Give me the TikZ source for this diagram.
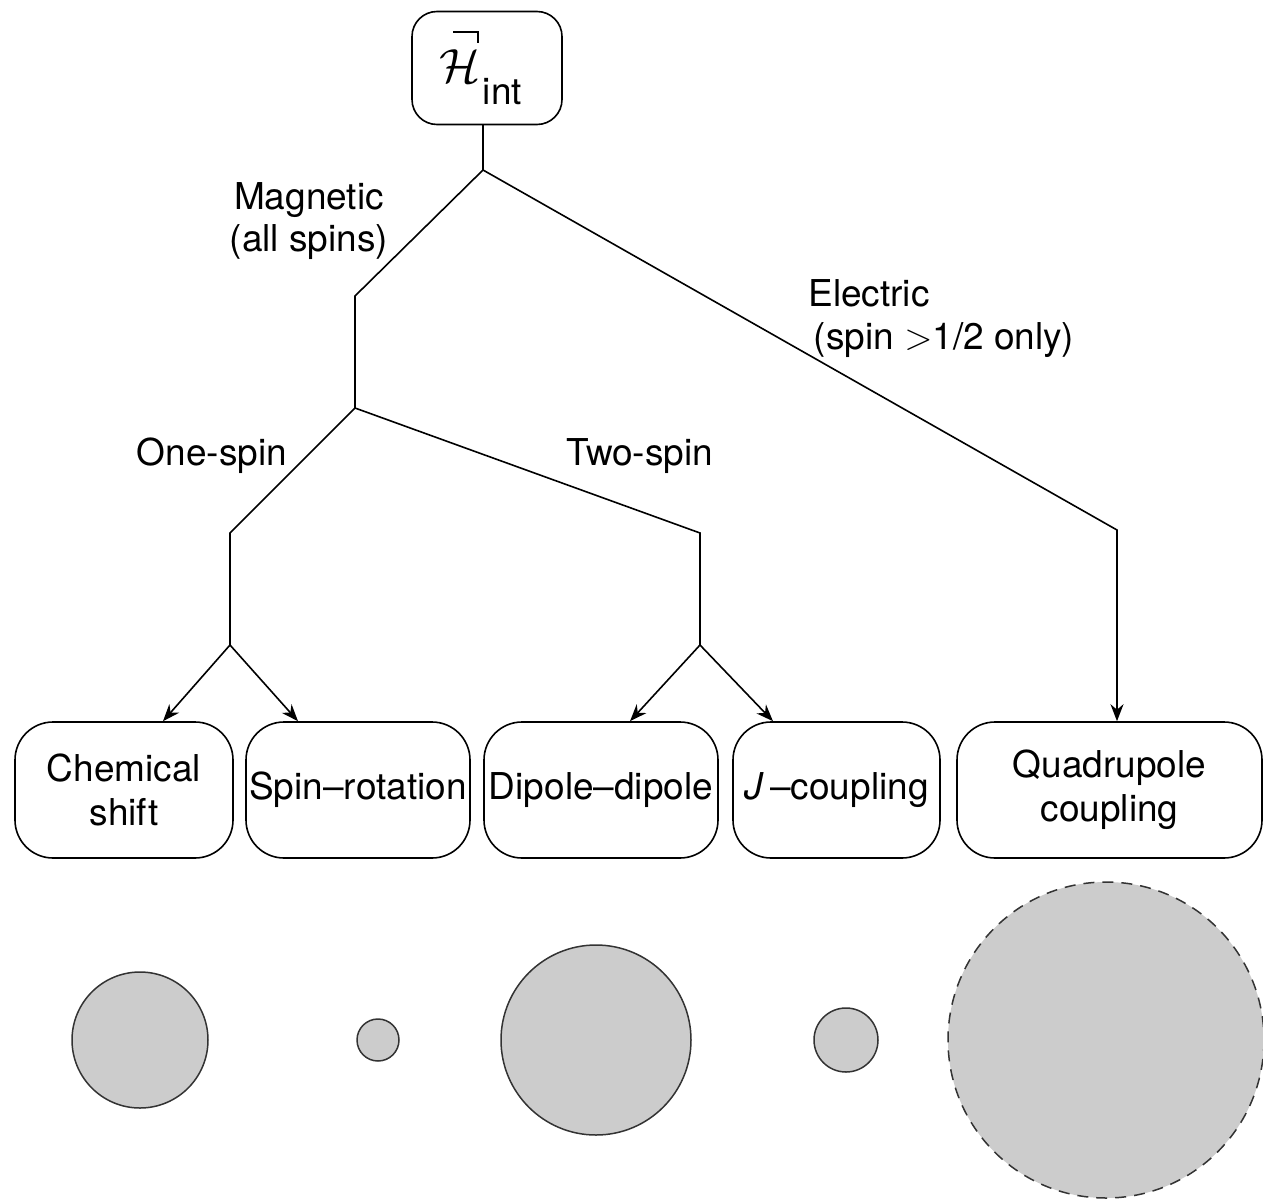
\RequirePackage{fix-cm}
\documentclass[tikz,border=0pt]{standalone}
\usepackage{fontspec}
\setmainfont{TeX Gyre Heros}
\usetikzlibrary{arrows.meta}
\begin{document}
\begin{tikzpicture}[x=1pt,y=-1pt,
  line width=1.6pt,
  every node/.style={font=\fontsize{37}{44}\selectfont},
  box/.style={draw, rounded corners=38pt, minimum height=136pt, inner sep=2pt, align=center},
  topbox/.style={draw, rounded corners=25pt, minimum width=150pt, minimum height=113pt},
  lbl/.style={align=center, inner sep=0pt},
  arr/.style={-{Stealth[length=17pt,width=13pt]}},
  blob/.style={fill=gray!40, draw=black!80, line width=1.5pt}
]
\useasboundingbox (0,0) rectangle (1263,1199);

% top node
\node[topbox] (top) at (487,68) {};
\node[inner sep=0pt] (hsym) at (460,66) {\fontsize{48}{48}\selectfont$\mathcal{H}$};
\node[inner sep=0pt, anchor=base west] (hsub) at (482,104) {int};
\draw[line width=1.5pt] (453,32) -- (478,32) -- (478,43);

% junction coordinates
\coordinate (j0) at (483,170);
\coordinate (m1) at (355,296);
\coordinate (m2) at (355,408);
\coordinate (a1) at (230,533);
\coordinate (a2) at (230,645);
\coordinate (b1) at (700,533);
\coordinate (b2) at (700,645);
\coordinate (e1) at (1117,530);

% leaf boxes
\node[box, minimum width=218pt] (cs) at (124,790) {Chemical\\shift};
\node[box, minimum width=224pt] (sr) at (358,790) {Spin--rotation};
\node[box, minimum width=234pt] (dd) at (601,790) {Dipole--dipole};
\node[box, minimum width=207pt] (jc) at (836.5,790) {\textit{J}\,--coupling};
\node[box, minimum width=305pt] (qc) at (1109.5,790) {Quadrupole\\coupling};

% tree lines
\draw (top.south -| j0) -- (j0);
\draw (j0) -- (m1) -- (m2);
\draw (m2) -- (a1) -- (a2);
\draw (m2) -- (b1) -- (b2);
\draw[arr] (j0) -- (e1) -- ([xshift=7.5pt]qc.north);
\draw[arr] (a2) -- ([xshift=39pt]cs.north);
\draw[arr] (a2) -- ([xshift=-60pt]sr.north);
\draw[arr] (b2) -- ([xshift=29pt]dd.north);
\draw[arr] (b2) -- ([xshift=-63.5pt]jc.north);

% branch labels
\node[lbl] (lmag) at (309,221) {Magnetic\\[-2pt](all spins)};
\node[lbl] (lel1) at (869,293) {Electric};
\node[lbl] (lel2) at (944,340) {(spin $>$1/2 only)};
\node[lbl] (lone) at (212,456) {One-spin};
\node[lbl] (ltwo) at (640,456) {Two-spin};

% circles
\draw[blob] (140,1040) circle (68);
\draw[blob] (378,1040) circle (21);
\draw[blob] (596,1040) circle (95);
\draw[blob] (846,1040) circle (32);
\draw[blob, dash pattern=on 11pt off 8pt] (1106,1040) circle (158);
\end{tikzpicture}
\end{document}
